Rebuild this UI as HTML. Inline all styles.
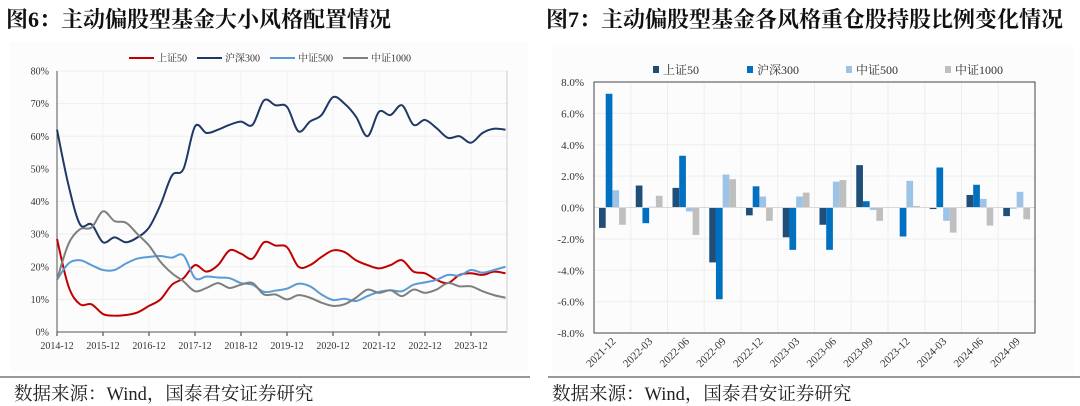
<!DOCTYPE html>
<html><head><meta charset="utf-8"><style>
body{margin:0;width:1080px;height:406px;background:#fff;overflow:hidden;font-family:"Liberation Serif","Noto Serif CJK SC",serif}
.t{position:absolute;top:3px;font-size:22px;font-weight:bold;color:#111;font-family:"Liberation Serif","Noto Serif CJK SC",serif;white-space:nowrap}
.s{position:absolute;top:380px;font-size:18.5px;color:#222;font-family:"Liberation Serif","Noto Serif CJK SC",serif;white-space:nowrap}
</style></head><body>
<div class="t" style="left:6px">图6：主动偏股型基金大小风格配置情况</div>
<div class="t" style="left:546px">图7：主动偏股型基金各风格重仓股持股比例变化情况</div>
<div class="s" style="left:14px">数据来源：Wind，国泰君安证券研究</div>
<div class="s" style="left:552px">数据来源：Wind，国泰君安证券研究</div>
<svg id="svg" width="1080" height="406" style="position:absolute;left:0;top:0" font-family="Liberation Serif, Noto Serif CJK SC, serif">
<line x1="0" y1="377" x2="530" y2="377" stroke="#333" stroke-width="1"/>
<line x1="548" y1="377" x2="1080" y2="377" stroke="#333" stroke-width="1"/>
<rect x="10" y="42" width="518" height="330" fill="#fcfcfc"/>
<rect x="552" y="45" width="522" height="330" fill="#fcfcfc"/>
<g id="L"></g><g id="R"></g>
</svg>
<script>
const lineDates=[];for(let i=0;i<40;i++){lineDates.push(i);}
const sz50=[28.5,14,8.5,8.5,5.5,5,5.2,6,8,10,14.5,16.5,20.5,18.5,20.5,25,24,22.5,27.5,26.5,26,20,20.5,23,25,24.5,22,20.5,19.5,20.5,22,18.5,18,16,15,17.5,18,17.5,18.5,18];
const hs300=[62,45,33,33,27.5,29,27.5,29,32,39,48,50,63,61,62,63.5,64.5,63.5,71,69.5,69,61.5,64.5,66.5,72,70,66,60,67.5,66.5,69.5,63.5,65,62.5,59.5,60,58,61,62.3,62];
const zz500=[16,21,22,20.5,19,19,21,22.5,23,23.3,22.8,23.5,16.5,17,16.7,16.5,15,14.5,12.3,12.7,13.3,14.8,14,11.5,9.8,10.2,9.5,11,12.3,12.8,12.5,14.5,15.2,16,17.5,17.3,19,18.2,19,20];
const zz1000=[16,27,31.5,32,37,34,33.5,30,26.5,21.5,18,15.5,12.5,13.5,15,13.5,14.5,15,11.5,11.5,10,11.3,10.5,9,8,8.5,10.5,13,12,12.8,11,13,12,13,15,14,14,12.5,11.3,10.5];
const lineXLabels=["2014-12","2015-12","2016-12","2017-12","2018-12","2019-12","2020-12","2021-12","2022-12","2023-12"];
const lineYTicks=[0,10,20,30,40,50,60,70,80];
const barCats=["2021-12","2022-03","2022-06","2022-09","2022-12","2023-03","2023-06","2023-09","2023-12","2024-03","2024-06","2024-09"];
const bSz50=[-1.3,1.4,1.25,-3.5,-0.5,-1.9,-1.1,2.7,0,-0.1,0.8,-0.55];
const bHs300=[7.25,-1.0,3.3,-5.85,1.35,-2.7,-2.7,0.4,-1.85,2.55,1.45,-0.05];
const bZz500=[1.1,0.05,-0.25,2.1,0.7,0.7,1.65,-0.15,1.7,-0.85,0.55,1.0];
const bZz1000=[-1.1,0.75,-1.75,1.8,-0.85,0.95,1.75,-0.85,0.1,-1.6,-1.15,-0.75];
const barYTicks=[-8,-6,-4,-2,0,2,4,6,8];
const NS="http://www.w3.org/2000/svg";
function mk(p,t,a,txt){const e=document.createElementNS(NS,t);for(const k in a)e.setAttribute(k,a[k]);if(txt!==undefined)e.textContent=txt;p.appendChild(e);return e;}
// LEFT
const L=document.getElementById('L');
const lx=q=>57+q*11.5, ly=v=>332-v*(261/80);
lineYTicks.forEach(v=>{
 if(v>0){const g=mk(L,'line',{x1:57,x2:507,y1:ly(v),y2:ly(v),stroke:'#eee'});}
 const t=mk(L,'text',{x:49,y:ly(v)+3.5,'font-size':10,'text-anchor':'end',fill:'#333'},v+'%');
 
});
lineXLabels.forEach((s,i)=>{
 const x=lx(i*4);
 const g=mk(L,'line',{x1:x,x2:x,y1:71,y2:332,stroke:'#f2f2f2'});
 const tk=mk(L,'line',{x1:x,x2:x,y1:332,y2:336,stroke:'#333'});
 const t=mk(L,'text',{x:x,y:349,'font-size':10,'text-anchor':'middle',fill:'#333'},s);
 
});
const ax=mk(L,'path',{d:'M57 71V332H507',stroke:'#555',fill:'none'});
mk(L,'line',{x1:507,x2:507,y1:71,y2:332,stroke:'#ccc'});
function smooth(vals){let pts=vals.map((v,i)=>[lx(lineDates[i]),ly(v)]);let d='M'+pts[0][0]+' '+pts[0][1];
 for(let i=0;i<pts.length-1;i++){const p0=pts[i-1]||pts[i],p1=pts[i],p2=pts[i+1],p3=pts[i+2]||p2;
 d+=` C${p1[0]+(p2[0]-p0[0])/6} ${p1[1]+(p2[1]-p0[1])/6} ${p2[0]-(p3[0]-p1[0])/6} ${p2[1]-(p3[1]-p1[1])/6} ${p2[0]} ${p2[1]}`;}return d;}
const lseries=[[sz50,'#c00000','上证50','line-sz50'],[hs300,'#1f3864','沪深300','line-hs300'],[zz500,'#5b9bd5','中证500','line-zz500'],[zz1000,'#7f7f7f','中证1000','line-zz1000']];
const legX=[129,197,270,343];
lseries.forEach((s,i)=>{
 const p=mk(L,'path',{d:smooth(s[0]),stroke:s[1],'stroke-width':2,fill:'none'});
 
 const g=mk(L,'g',{});
 mk(g,'line',{x1:legX[i],x2:legX[i]+25,y1:58,y2:58,stroke:s[1],'stroke-width':2});
 mk(g,'text',{x:legX[i]+28,y:61.5,'font-size':10,fill:'#333'},s[2]);
});
// RIGHT
const R=document.getElementById('R');
const x0=594,gw=(1035-594)/12,by=v=>207.5-v*(251/16);
barYTicks.forEach(v=>{
 const g=mk(R,'line',{x1:x0,x2:1035,y1:by(v),y2:by(v),stroke:'#eee'});
 const t=mk(R,'text',{x:584,y:by(v)+4,'font-size':11,'text-anchor':'end',fill:'#333'},v.toFixed(1)+'%');
 
});
barCats.forEach((c,i)=>{
 const x=x0+i*gw;
 if(i>0){const g=mk(R,'line',{x1:x,x2:x,y1:82,y2:333,stroke:'#eee'});}
 const cx=x+gw/2;
 const t=mk(R,'text',{x:cx+4,y:342,'font-size':11,'text-anchor':'end',fill:'#333',transform:`rotate(-45 ${cx+4} 342)`},c);
 
});
const bseries=[[bSz50,'#1f4e79','上证50','bar-sz50'],[bHs300,'#0070c0','沪深300','bar-hs300'],[bZz500,'#9dc3e6','中证500','bar-zz500'],[bZz1000,'#bfbfbf','中证1000','bar-zz1000']];
const bw=6.7,bLegX=[653,747,846,945];
bseries.forEach((s,k)=>{
 s[0].forEach((v,i)=>{
  const x=x0+i*gw+5+k*bw,y1=by(Math.max(v,0)),y2=by(Math.min(v,0));
  const r=mk(R,'rect',{x:x,y:y1,width:bw,height:Math.max(y2-y1,0.5),fill:s[1]});
  
 });
 const g=mk(R,'g',{});
 mk(g,'rect',{x:bLegX[k],y:66,width:6,height:7,fill:s[1]});
 mk(g,'text',{x:bLegX[k]+10,y:74,'font-size':12,fill:'#333'},s[2]);
});
const z=mk(R,'line',{x1:x0,x2:1035,y1:by(0),y2:by(0),stroke:'#d9d9d9'});
const fr=mk(R,'rect',{x:x0,y:82,width:1035-x0,height:251,fill:'none',stroke:'#444'});
</script>
</body></html>
